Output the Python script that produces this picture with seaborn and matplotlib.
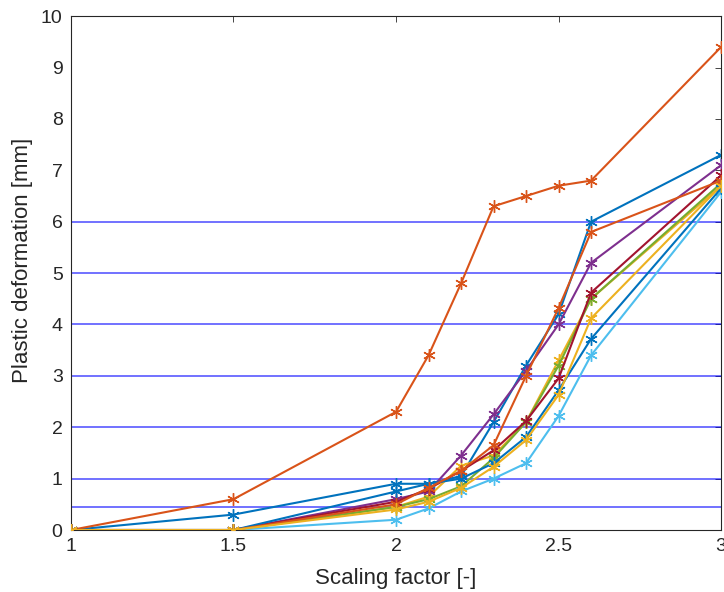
import matplotlib
matplotlib.use("Agg")
import matplotlib.pyplot as plt
import seaborn as sns
import pandas as pd

sns.set_style("white")
plt.rcParams['font.family'] = ['Liberation Sans', 'DejaVu Sans']

scaling = [1, 1.5, 2, 2.1, 2.2, 2.3, 2.4, 2.5, 2.6, 3]

blue1   = [0, 0.30, 0.90, 0.90, 1.05, 2.10, 3.20, 4.20, 6.00, 7.30]
orange1 = [0, 0.60, 2.30, 3.40, 4.80, 6.30, 6.50, 6.70, 6.80, 9.40]
yellow1 = [0, 0.00, 0.45, 0.65, 1.25, 1.45, 2.10, 3.30, 4.50, 6.70]
purple  = [0, 0.00, 0.60, 0.75, 1.45, 2.25, 3.10, 4.00, 5.20, 7.10]
green   = [0, 0.00, 0.45, 0.60, 0.85, 1.40, 2.10, 3.20, 4.50, 6.75]
lblue   = [0, 0.00, 0.20, 0.42, 0.75, 1.00, 1.30, 2.22, 3.40, 6.58]
dred    = [0, 0.00, 0.55, 0.80, 1.15, 1.55, 2.12, 2.95, 4.62, 6.90]
blue2   = [0, 0.00, 0.75, 0.90, 1.00, 1.30, 1.81, 2.72, 3.72, 6.65]
orange2 = [0, 0.00, 0.50, 0.82, 1.15, 1.65, 3.00, 4.32, 5.80, 6.80]
yellow2 = [0, 0.00, 0.40, 0.55, 0.82, 1.23, 1.75, 2.63, 4.12, 6.70]

series = [blue1, orange1, yellow1, purple, green, lblue, dred, blue2, orange2, yellow2]
colors = ['#0072BD', '#D95319', '#EDB120', '#7E2F8E', '#77AC30',
          '#4DBEEE', '#A2142F', '#0072BD', '#D95319', '#EDB120']

hlines = [0.44, 1, 2, 3, 4, 5, 6]

xticks = [1, 1.5, 2, 2.5, 3]
xticklabels = ['1', '1.5', '2', '2.5', '3']
yticks = list(range(0, 11))

fig = plt.figure(figsize=(7.24, 5.92), dpi=100)
ax = fig.add_axes([0.098, 0.1047, 0.898, 0.868])

for h in hlines:
    ax.axhline(h, color='#0000FF', alpha=0.65, lw=1.2, zorder=1)

for i, (s, c) in enumerate(zip(series, colors)):
    df = pd.DataFrame({'x': scaling, 'y': s})
    sns.lineplot(data=df, x='x', y='y', ax=ax, color=c, lw=1.5,
                 marker=(6, 2, 0), markersize=9, markeredgewidth=1.0,
                 markeredgecolor=c, zorder=2 + i, estimator=None)

ax.set_xlim(1, 3)
ax.set_ylim(0, 10)
ax.set_xticks(xticks)
ax.set_xticklabels(xticklabels)
ax.set_yticks(yticks)
ax.set_xlabel('Scaling factor [-]', fontsize=16, color='#262626', labelpad=9)
ax.set_ylabel('Plastic deformation [mm]', fontsize=16, color='#262626')
ax.yaxis.set_label_coords(-0.058, 0.525)
ax.tick_params(direction='in', top=True, right=True, length=4, width=0.6,
               labelsize=14, colors='#262626', pad=6)
for sp in ax.spines.values():
    sp.set_color('#262626')
    sp.set_linewidth(0.8)

fig.savefig('out.png', dpi=100)
